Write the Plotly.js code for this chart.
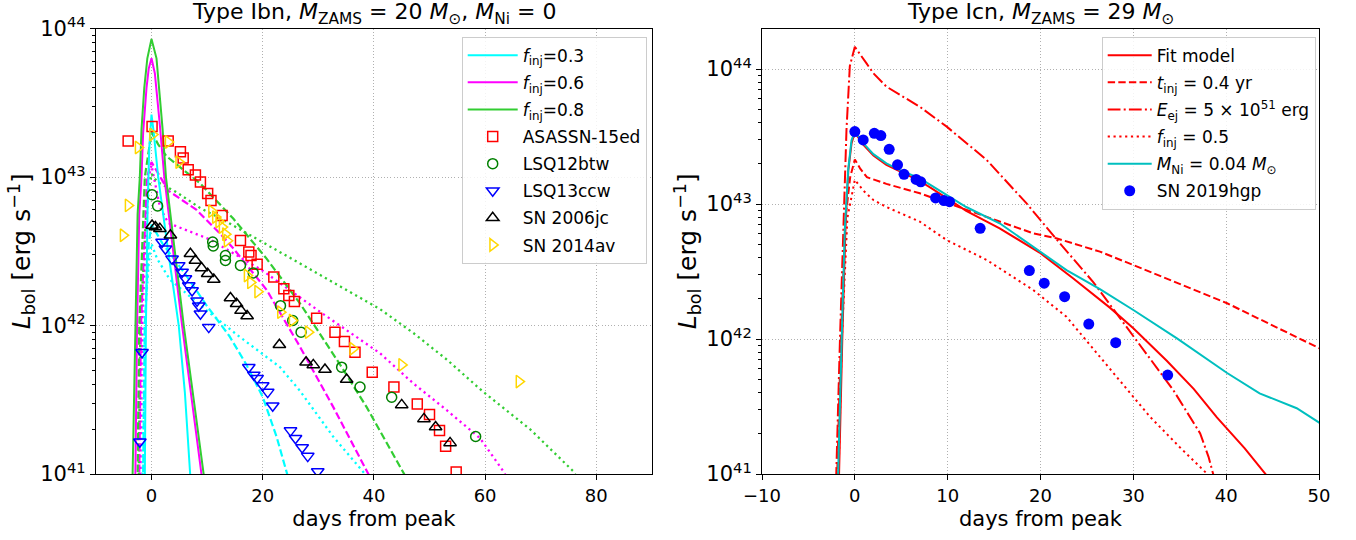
<!DOCTYPE html>
<html><head><meta charset="utf-8">
<script src="https://cdn.plot.ly/plotly-3.0.1.min.js"></script>
<style>html,body{margin:0;padding:0;background:#fff}#chart{width:1356px;height:540px}</style>
</head><body><div id="chart"></div>
<script>
// ---------- LEFT PANEL: Type Ibn models ----------
const cyanSolidX = [-1.3,-1.2,-1.0,-0.7,-0.4,0,0.4,1.2,3.0,4.9,6.0,6.95,7.3];
const cyanSolidL = [6.3e40,1e41,1e42,6.3e42,1.58e43,2.63e43,2.0e43,1e43,3.16e42,1e42,3.55e41,1e41,6.3e40];
const magentaSolidX = [-3.0,-2.9,-2.6,-2.2,-1.8,-1.5,-0.9,-0.5,0,0.6,1.5,2.3,3.9,5.5,7.25,9.0,9.4];
const magentaSolidL = [6.3e40,1e41,1e42,5.6e42,1e43,2.0e43,3.98e43,5.37e43,6.3e43,5.0e43,2.24e43,1e43,3.16e42,1e42,3.16e41,1e41,7.6e40];
const greenSolidX = [-3.5,-3.4,-3.0,-2.5,-2.1,-1.8,-1.3,-0.75,0,0.9,2.0,2.6,4.2,5.8,7.6,9.4,9.8];
const greenSolidL = [6.3e40,1e41,1e42,5.6e42,1e43,2.09e43,3.98e43,6.3e43,8.5e43,6.3e43,2.09e43,1e43,3.16e42,1e42,3.16e41,1e41,7.6e40];
const cyanDashX = [-1.6,-1.5,-1.2,-0.5,0,2,6,10,14,17,20,22.5,24.4,24.8];
const cyanDashL = [6.3e40,1e41,1e42,3.55e42,4.79e42,3.55e42,2.24e42,1.35e42,8.5e41,5.5e41,3.31e41,1.78e41,1e41,8.3e40];
const cyanDotX = [-1.7,-1.6,-1.3,-0.5,0,1,3.3,9.3,15.3,23.1,26.7,32.7,38.4,39];
const cyanDotL = [6.3e40,1e41,1e42,2.63e42,3.55e42,2.82e42,2.04e42,1.32e42,8.7e41,5.25e41,3.63e41,1.78e41,1e41,9.1e40];
const magentaDashX = [-2.3,-2.2,-1.9,-0.8,0,1.5,3,8.1,12.3,14.7,20.7,26.7,32.7,39.0,39.5];
const magentaDashL = [6.3e40,1e41,1e42,1e43,1.26e43,1e43,8.1e42,6.0e42,4.17e42,3.31e42,1.74e42,7.2e41,2.82e41,1e41,8.9e40];
const magentaDotX = [-2.1,-2.0,-1.7,-0.5,0,0.7,1.5,3,10.5,20,30,41.1,47.1,53.1,59.1,63.3,64];
const magentaDotL = [6.3e40,1e41,1e42,1e43,1.2e43,8.9e42,6.3e42,4.9e42,3.8e42,2.34e42,1.26e42,6.5e41,4.07e41,2.69e41,1.74e41,1.04e41,9.3e40];
const greenDashX = [-2.6,-2.5,-2.2,-1.2,0,1.2,2.7,8.7,14.7,20.7,26.7,34.2,38.7,45.6,46.2];
const greenDashL = [6.3e40,1e41,1e42,1e43,2.0e43,1.66e43,1.38e43,9.1e42,5.25e42,2.82e42,1.41e42,5.25e41,2.82e41,1e41,8.9e40];
const greenDotX = [-2.4,-2.3,-2.0,-0.9,0,1,4.5,8.7,13.5,20,29.7,41.1,47.1,53.1,59.6,68.1,75.9,76.5];
const greenDotL = [6.3e40,1e41,1e42,6.3e42,1.05e43,9.3e42,7.9e42,6.2e42,5.0e42,3.63e42,2.24e42,1.29e42,8.9e41,5.9e41,3.59e41,2.0e41,1.04e41,9.5e40];

// ---------- LEFT PANEL: observations ----------
const asassnX = [-4.2,0.1,3.0,5.2,5.7,6.6,7.9,8.8,10.1,10.7,12.7,16.0,17.5,17.9,19.0,22.0,23.8,24.7,25.7,29.7,33.0,34.7,36.6,39.7,43.6,47.8,50.0,51.8,52.9,54.8];
const asassnL = [1.75e43,2.19e43,1.75e43,1.48e43,1.34e43,1.12e43,1.03e43,9.25e42,7.73e42,6.95e42,5.51e42,3.74e42,3.13e42,2.96e42,2.58e42,2.12e42,1.77e42,1.59e42,1.45e42,1.12e42,9.02e41,7.80e41,6.61e41,4.85e41,3.85e41,2.96e41,2.52e41,1.96e41,1.54e41,1.03e41];
const lsq12X = [0.1,1.1,11.0,11.1,13.3,13.3,16.0,18.3,23.2,25.4,26.9,34.2,37.5,43.2,58.3];
const lsq12L = [7.60e42,6.38e42,3.65e42,3.43e42,2.96e42,2.74e42,2.54e42,2.26e42,1.36e42,1.08e42,9.02e41,5.24e41,3.85e41,3.29e41,1.79e41];
const lsq13X = [-2.1,-1.7,1.9,2.5,3.7,4.9,5.5,6.1,6.7,7.3,8.2,8.5,8.8,10.3,17.5,18.4,19.0,20.0,20.9,21.8,25.0,25.9,27.1,28.1,29.9];
const lsq13L = [1.65e41,6.61e41,3.65e42,3.29e42,2.81e42,2.54e42,2.29e42,2.07e42,1.86e42,1.72e42,1.47e42,1.36e42,1.20e42,9.75e41,5.24e41,4.65e41,4.42e41,3.94e41,3.56e41,2.88e41,1.96e41,1.74e41,1.51e41,1.32e41,1.04e41];
const sn06jcX = [0.1,0.7,1.5,3.4,7.0,7.9,9.0,10.1,11.2,14.2,15.3,16.1,17.2,23.0,27.8,29.1,31.2,35.1,45.0,49.0,51.1,53.7];
const sn06jcL = [4.72e42,4.60e42,4.49e42,4.05e42,3.04e42,2.74e42,2.44e42,2.23e42,2.04e42,1.53e42,1.40e42,1.26e42,1.16e42,7.41e41,5.66e41,5.43e41,5.05e41,4.33e41,2.92e41,2.35e41,2.07e41,1.62e41];
const sn14avX = [-5.1,-4.2,-2.4,0.2,3.0,4.9,10.8,11.5,12.1,12.7,13.3,13.6,17.2,17.8,19.1,23.2,25.3,28.2,36.2,45.0,66.1];
const sn14avL = [4.05e42,6.44e42,1.58e43,1.93e43,1.72e43,1.26e43,5.89e42,5.37e42,5.01e42,4.60e42,4.12e42,3.72e42,2.17e42,1.95e42,1.69e42,1.23e42,1.08e42,9.02e41,6.97e41,5.43e41,4.19e41];

// ---------- RIGHT PANEL: Type Icn ----------
const fitX = [-1.8,-1.7,-1.35,-1.0,-0.7,-0.35,0,0.9,2.0,3.4,5.2,7.0,8.4,12,15.6,19.9,23.5,27.5,30,33.6,36.5,39,42,44.2,44.6];
const fitL = [6.3e40,1e41,1e42,7.1e42,1.78e43,2.82e43,3.39e43,2.75e43,2.29e43,1.95e43,1.70e43,1.48e43,1.29e43,8.9e42,6.6e42,4.37e42,2.82e42,1.70e42,1.20e42,6.9e41,4.27e41,2.63e41,1.55e41,1e41,9.3e40];
const tinjX = [-2.0,-1.9,-1.5,-1.0,-0.5,0,0.6,1.3,3.4,7.0,9.9,14.2,19.2,21.7,26.4,30,40.1,50.1];
const tinjL = [6.3e40,1e41,1e42,7.9e42,1.58e43,2.14e43,1.82e43,1.58e43,1.41e43,1.2e43,1.02e43,8.05e42,6.07e42,5.57e42,4.44e42,3.53e42,1.84e42,8.5e41];
const eejX = [-2.1,-2.0,-1.6,-1.1,-0.9,-0.54,0,1.26,2.0,3.4,5.2,7.0,9.9,14.2,18.5,21.7,25.7,30,34.3,37.2,38.1,38.6,38.9];
const eejL = [6.3e40,1e41,1e42,1.07e43,3.55e43,1.05e44,1.46e44,1.1e44,9.3e43,7.4e43,6.2e43,5.25e43,3.74e43,2.12e43,1.01e43,5.5e42,2.63e42,1.04e42,4.19e41,2.0e41,1.34e41,1e41,7.9e40];
const finjX = [-1.85,-1.75,-1.4,-0.8,0,0.9,2.0,3.4,7.0,9.9,14.2,19.2,22.8,26.4,31.8,35.0,37.9,38.3];
const finjL = [6.3e40,1e41,1e42,7.9e42,1.51e43,1.26e43,1.07e43,9.5e42,7.4e42,5.4e42,3.85e42,2.31e42,1.46e42,7.4e41,2.65e41,1.58e41,1.01e41,9.3e40];
const mniX = [-1.9,-1.8,-1.4,-1.08,-0.72,-0.36,0,0.9,2.0,3.4,5.2,7.0,8.4,12,15.6,19.2,22.8,26.4,30,34.7,40.1,43.6,47.6,50.1];
const mniL = [6.3e40,1e41,1.1e42,6.5e42,1.78e43,2.95e43,3.47e43,2.82e43,2.34e43,2.0e43,1.74e43,1.55e43,1.35e43,9.5e42,7.2e42,4.8e42,3.24e42,2.34e42,1.64e42,1.01e42,5.6e41,3.96e41,3.07e41,2.38e41];
const hgpX = [0,0.9,2.1,2.8,3.7,4.6,5.3,6.6,7.1,8.7,9.6,10.2,13.5,18.8,20.4,22.6,25.2,28.1,33.7];
const hgpL = [3.44e43,2.98e43,3.34e43,3.21e43,2.54e43,1.95e43,1.66e43,1.52e43,1.46e43,1.11e43,1.06e43,1.04e43,6.61e42,3.21e42,2.59e42,2.06e42,1.29e42,9.4e41,5.41e41];

// ---------- tick labels ----------
const xTicksLeft = [0,20,40,60,80];
const xTicksRight = [-10,0,10,20,30,40,50];
const yTickVals = [1e41,1e42,1e43,1e44];
const yTickText = ['10<sup>41</sup>','10<sup>42</sup>','10<sup>43</sup>','10<sup>44</sup>'];

const CYAN='#00FFFF', MAG='#FF00FF', GRN='#32CD32', RED='#FF0000', TEAL='#00BFBF';
const DASH='7.4px,3.2px', DOT='2.2px,3.6px', DASHDOT='12.8px,3.2px,2px,3.2px';

let rank = 1;
function line(x, y, color, dash, name, axis, legend, show, width) {
  const t = {type:'scatter', mode:'lines', x:x, y:y, name:name||'', xaxis:axis[0], yaxis:axis[1],
    line:{color:color, dash:dash, width:width||2}, showlegend:!!show, legend:legend, hoverinfo:'skip'};
  if (show) { t.legendgroup = legend + '_' + rank; t.legendrank = rank; rank++; }
  return t;
}
function pts(x, y, symbol, color, name, axis, legend, size, filled) {
  const t = {type:'scatter', mode:'markers', x:x, y:y, name:name, xaxis:axis[0], yaxis:axis[1],
    marker:{symbol:symbol, color:color, size:size, line:{color:color, width: filled?0:1.5}},
    showlegend:true, legend:legend, legendgroup: legend + '_' + rank, legendrank: rank, hoverinfo:'skip'};
  rank++;
  return t;
}
const L = ['x','y'], R = ['x2','y2'];
const traces = [];
traces.push(line(cyanDotX, cyanDotL, CYAN, DOT, '', L, 'legend', false, 2.3));
traces.push(line(magentaDotX, magentaDotL, MAG, DOT, '', L, 'legend', false, 2.3));
traces.push(line(greenDotX, greenDotL, GRN, DOT, '', L, 'legend', false, 2.3));
traces.push(line(cyanDashX, cyanDashL, CYAN, DASH, '', L, 'legend', false, 2.2));
traces.push(line(magentaDashX, magentaDashL, MAG, DASH, '', L, 'legend', false, 2.2));
traces.push(line(greenDashX, greenDashL, GRN, DASH, '', L, 'legend', false, 2.2));
rank = 1;
traces.push(line(cyanSolidX, cyanSolidL, CYAN, 'solid', '<i>f</i><sub>inj</sub>=0.3', L, 'legend', true, 2));
traces.push(line(magentaSolidX, magentaSolidL, MAG, 'solid', '<i>f</i><sub>inj</sub>=0.6', L, 'legend', true, 2));
traces.push(line(greenSolidX, greenSolidL, GRN, 'solid', '<i>f</i><sub>inj</sub>=0.8', L, 'legend', true, 2));
traces.push(pts(asassnX, asassnL, 'square-open', '#FF0000', 'ASASSN-15ed', L, 'legend', 10));
traces.push(pts(lsq12X, lsq12L, 'circle-open', '#008000', 'LSQ12btw', L, 'legend', 10));
traces.push(pts(lsq13X, lsq13L, 'triangle-down-open', '#0000FF', 'LSQ13ccw', L, 'legend', 11));
traces.push(pts(sn06jcX, sn06jcL, 'triangle-up-open', '#000000', 'SN 2006jc', L, 'legend', 11));
traces.push(pts(sn14avX, sn14avL, 'triangle-right-open', '#FFD700', 'SN 2014av', L, 'legend', 11));
rank = 1;
traces.push(line(fitX, fitL, RED, 'solid', 'Fit model', R, 'legend2', true, 2));
traces.push(line(tinjX, tinjL, RED, DASH, '<i>t</i><sub>inj</sub> = 0.4 yr', R, 'legend2', true, 2));
traces.push(line(eejX, eejL, RED, DASHDOT, '<i>E</i><sub>ej</sub> = 5 × 10<sup>51</sup> erg', R, 'legend2', true, 2));
traces.push(line(finjX, finjL, RED, DOT, '<i>f</i><sub>inj</sub> = 0.5', R, 'legend2', true, 2));
traces.push(line(mniX, mniL, TEAL, 'solid', '<i>M</i><sub>Ni</sub> = 0.04 <i>M</i><sub>⊙</sub>', R, 'legend2', true, 2));
traces.push(pts(hgpX, hgpL, 'circle', '#0000FF', 'SN 2019hgp', R, 'legend2', 11, true));

const minorVals = [];
for (let e = 41; e <= 43; e++) for (let k = 2; k <= 9; k++) minorVals.push(k * Math.pow(10, e));

const FONT = 'DejaVu Sans, sans-serif';
const PH = 474;
const GRID = {showgrid:true, gridcolor:'#b0b0b0', gridwidth:1, griddash:'1px,2.2px'};
function xa(domain, range, ticks, anchor) {
  return Object.assign({domain:domain, range:range, tickmode:'array', tickvals:ticks, ticks:'outside', ticklen:5, tickwidth:1,
    tickcolor:'#000', showline:true, linecolor:'#000', linewidth:1, mirror:true, zeroline:false, anchor:anchor,
    tickfont:{size:18, color:'#000'}, automargin:false,
    title:{text:'days from peak', font:{size:21, color:'#000'}, standoff:6}}, GRID);
}
function ya(range, anchor) {
  return Object.assign({type:'log', domain:[0, 1 - 28.5/PH], range:range, tickmode:'array', tickvals:yTickVals, ticktext:yTickText,
    ticks:'outside', ticklen:5, tickwidth:1, tickcolor:'#000', showline:true, linecolor:'#000', linewidth:1,
    mirror:true, zeroline:false, anchor:anchor,
    tickfont:{size:21, color:'#000'}, automargin:false,
    minor:{tickvals:minorVals, ticks:'outside', ticklen:3, tickcolor:'#000', tickwidth:1, showgrid:false},
    title:{text:'<i>L</i><sub>bol</sub> [erg s<sup>−1</sup>]', font:{size:25, color:'#000'}, standoff:2}}, GRID);
}
const legendBase = {xanchor:'left', yanchor:'top', bgcolor:'rgba(255,255,255,0.85)', bordercolor:'#cccccc',
  borderwidth:1, font:{size:17, color:'#000', family:FONT}, traceorder:'grouped'};

const layout = {
  width:1356, height:540, margin:{l:0, r:0, t:0, b:66}, paper_bgcolor:'#fff', plot_bgcolor:'#fff',
  font:{family:FONT, color:'#000'}, showlegend:true,
  xaxis: xa([95.9/1356, 651.9/1356], [-10, 90], xTicksLeft, 'y'),
  yaxis: ya([41, 44], 'x'),
  xaxis2: xa([762/1356, 1319/1356], [-10, 50], xTicksRight, 'y2'),
  yaxis2: ya([41, 44.3], 'x2'),
  legend: Object.assign({x:461.7/1356, y:1 - 36.7/PH, tracegroupgap:2, itemwidth:50}, legendBase),
  legend2: Object.assign({x:1101.7/1356, y:1 - 36.7/PH, tracegroupgap:2, itemwidth:44}, legendBase),
  annotations: [
    {text:'Type Ibn, <i>M</i><sub>ZAMS</sub> = 20 <i>M</i><sub>⊙</sub>, <i>M</i><sub>Ni</sub> = 0', xref:'paper', yref:'paper',
     x:374/1356, y:1 - 13/PH, xanchor:'center', yanchor:'middle', showarrow:false, font:{size:22}},
    {text:'Type Icn, <i>M</i><sub>ZAMS</sub> = 29 <i>M</i><sub>⊙</sub>', xref:'paper', yref:'paper',
     x:1040.5/1356, y:1 - 13/PH, xanchor:'center', yanchor:'middle', showarrow:false, font:{size:22}}
  ]
};
Plotly.newPlot('chart', traces, layout, {displayModeBar:false, staticPlot:true});
</script></body></html>
